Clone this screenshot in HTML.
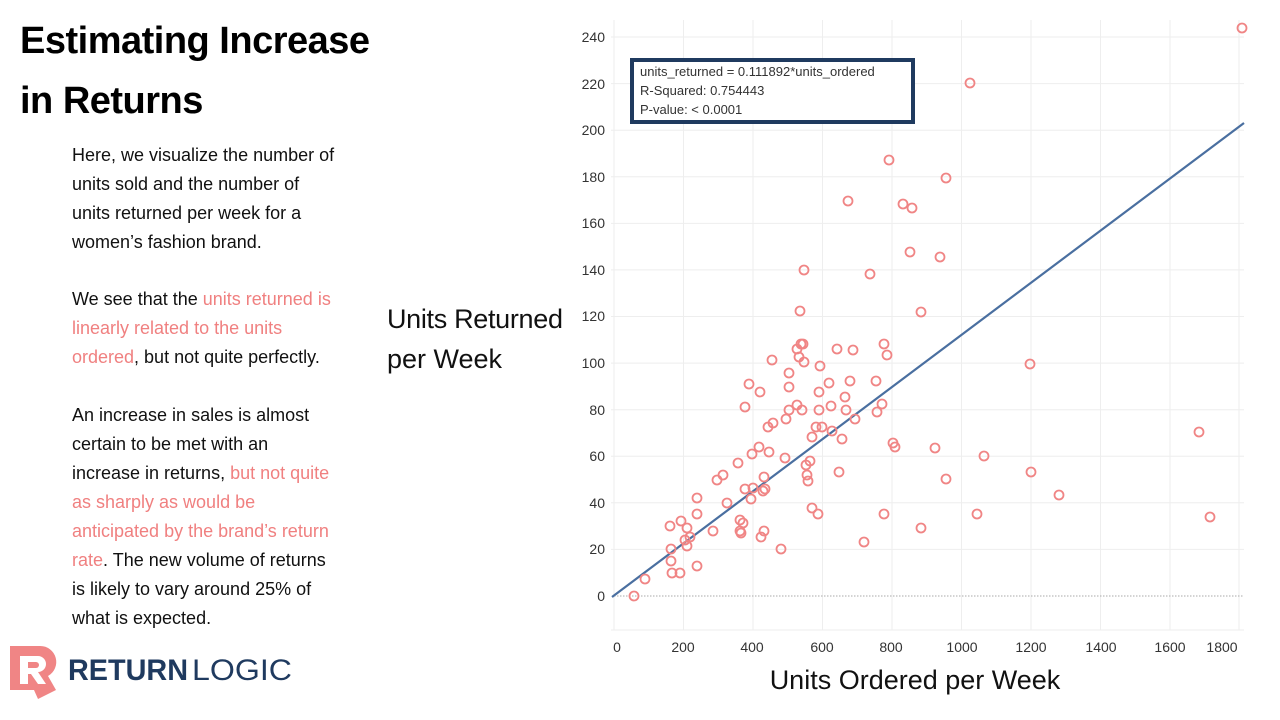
<!DOCTYPE html>
<html><head><meta charset="utf-8"><style>
body{margin:0;width:1280px;height:720px;background:#fff;position:relative;overflow:hidden;font-family:"Liberation Sans",sans-serif;}
.t{position:absolute;left:20px;font-weight:bold;font-size:38px;color:#000;letter-spacing:-0.5px}
.p{position:absolute;left:72px;font-size:18px;line-height:29px;color:#111;white-space:nowrap}
.r{color:#f08080}
</style></head><body>
<div class="t" style="top:20px">Estimating Increase</div>
<div class="t" style="top:80px">in Returns</div>
<div class="p" style="top:141px">Here, we visualize the number of<br>units sold and the number of<br>units returned per week for a<br>women’s fashion brand.</div>
<div class="p" style="top:285px">We see that the <span class="r">units returned is</span><br><span class="r">linearly related to the units</span><br><span class="r">ordered</span>, but not quite perfectly.</div>
<div class="p" style="top:401px">An increase in sales is almost<br>certain to be met with an<br>increase in returns, <span class="r">but not quite</span><br><span class="r">as sharply as would be</span><br><span class="r">anticipated by the brand’s return</span><br><span class="r">rate</span>. The new volume of returns<br>is likely to vary around 25% of<br>what is expected.</div>
<svg width="1280" height="720" style="position:absolute;left:0;top:0" font-family="Liberation Sans, sans-serif">
<g stroke="#eeeeee" stroke-width="1">
<line x1="611" y1="549.4" x2="1244" y2="549.4"/><line x1="611" y1="502.8" x2="1244" y2="502.8"/><line x1="611" y1="456.3" x2="1244" y2="456.3"/><line x1="611" y1="409.7" x2="1244" y2="409.7"/><line x1="611" y1="363.1" x2="1244" y2="363.1"/><line x1="611" y1="316.5" x2="1244" y2="316.5"/><line x1="611" y1="269.9" x2="1244" y2="269.9"/><line x1="611" y1="223.4" x2="1244" y2="223.4"/><line x1="611" y1="176.8" x2="1244" y2="176.8"/><line x1="611" y1="130.2" x2="1244" y2="130.2"/><line x1="611" y1="83.6" x2="1244" y2="83.6"/><line x1="611" y1="37" x2="1244" y2="37"/>
<line x1="614" y1="20" x2="614" y2="630"/><line x1="683.5" y1="20" x2="683.5" y2="630"/><line x1="753" y1="20" x2="753" y2="630"/><line x1="822.5" y1="20" x2="822.5" y2="630"/><line x1="892" y1="20" x2="892" y2="630"/><line x1="961.5" y1="20" x2="961.5" y2="630"/><line x1="1031" y1="20" x2="1031" y2="630"/><line x1="1100.5" y1="20" x2="1100.5" y2="630"/><line x1="1170" y1="20" x2="1170" y2="630"/><line x1="1239" y1="20" x2="1239" y2="630"/>
<line x1="611" y1="630" x2="1244" y2="630"/>
</g>
<line x1="614" y1="596" x2="1244" y2="596" stroke="#aaa" stroke-dasharray="1.5,1.5"/>
<g font-size="14" fill="#333" text-anchor="end">
<text x="605" y="601">0</text><text x="605" y="554">20</text><text x="605" y="508">40</text><text x="605" y="461">60</text><text x="605" y="415">80</text><text x="605" y="368">100</text><text x="605" y="321">120</text><text x="605" y="275">140</text><text x="605" y="228">160</text><text x="605" y="182">180</text><text x="605" y="135">200</text><text x="605" y="89">220</text><text x="605" y="42">240</text>
</g>
<g font-size="14" fill="#333" text-anchor="middle">
<text x="617" y="652">0</text><text x="683" y="652">200</text><text x="752" y="652">400</text><text x="822" y="652">600</text><text x="891" y="652">800</text><text x="962" y="652">1000</text><text x="1031" y="652">1200</text><text x="1101" y="652">1400</text><text x="1170" y="652">1600</text><text x="1222" y="652">1800</text>
</g>
<line x1="612" y1="597" x2="1244" y2="123" stroke="#4a6fa0" stroke-width="2.2"/>
<g fill="none" stroke="#f08585" stroke-width="1.8">
<circle cx="634" cy="596" r="4.5"/><circle cx="645" cy="579" r="4.5"/><circle cx="670" cy="526" r="4.5"/><circle cx="671" cy="549" r="4.5"/><circle cx="671" cy="561" r="4.5"/><circle cx="672" cy="573" r="4.5"/><circle cx="680" cy="573" r="4.5"/><circle cx="681" cy="521" r="4.5"/><circle cx="685" cy="540" r="4.5"/><circle cx="687" cy="546" r="4.5"/><circle cx="687" cy="528" r="4.5"/><circle cx="690" cy="537" r="4.5"/><circle cx="697" cy="514" r="4.5"/><circle cx="697" cy="498" r="4.5"/><circle cx="697" cy="566" r="4.5"/><circle cx="713" cy="531" r="4.5"/><circle cx="717" cy="480" r="4.5"/><circle cx="723" cy="475" r="4.5"/><circle cx="727" cy="503" r="4.5"/><circle cx="738" cy="463" r="4.5"/><circle cx="740" cy="531" r="4.5"/><circle cx="740" cy="520" r="4.5"/><circle cx="741" cy="533" r="4.5"/><circle cx="743" cy="523" r="4.5"/><circle cx="745" cy="407" r="4.5"/><circle cx="745" cy="489" r="4.5"/><circle cx="749" cy="384" r="4.5"/><circle cx="751" cy="499" r="4.5"/><circle cx="752" cy="454" r="4.5"/><circle cx="753" cy="488" r="4.5"/><circle cx="759" cy="447" r="4.5"/><circle cx="760" cy="392" r="4.5"/><circle cx="761" cy="537" r="4.5"/><circle cx="763" cy="491" r="4.5"/><circle cx="764" cy="531" r="4.5"/><circle cx="764" cy="477" r="4.5"/><circle cx="765" cy="489" r="4.5"/><circle cx="768" cy="427" r="4.5"/><circle cx="769" cy="452" r="4.5"/><circle cx="772" cy="360" r="4.5"/><circle cx="773" cy="423" r="4.5"/><circle cx="781" cy="549" r="4.5"/><circle cx="785" cy="458" r="4.5"/><circle cx="786" cy="419" r="4.5"/><circle cx="789" cy="387" r="4.5"/><circle cx="789" cy="373" r="4.5"/><circle cx="789" cy="410" r="4.5"/><circle cx="797" cy="405" r="4.5"/><circle cx="797" cy="349" r="4.5"/><circle cx="799" cy="357" r="4.5"/><circle cx="800" cy="311" r="4.5"/><circle cx="801" cy="344" r="4.5"/><circle cx="802" cy="410" r="4.5"/><circle cx="803" cy="344" r="4.5"/><circle cx="804" cy="270" r="4.5"/><circle cx="804" cy="362" r="4.5"/><circle cx="806" cy="465" r="4.5"/><circle cx="807" cy="475" r="4.5"/><circle cx="808" cy="481" r="4.5"/><circle cx="810" cy="461" r="4.5"/><circle cx="812" cy="437" r="4.5"/><circle cx="812" cy="508" r="4.5"/><circle cx="816" cy="427" r="4.5"/><circle cx="818" cy="514" r="4.5"/><circle cx="819" cy="392" r="4.5"/><circle cx="819" cy="410" r="4.5"/><circle cx="820" cy="366" r="4.5"/><circle cx="822" cy="427" r="4.5"/><circle cx="829" cy="383" r="4.5"/><circle cx="831" cy="406" r="4.5"/><circle cx="832" cy="431" r="4.5"/><circle cx="837" cy="349" r="4.5"/><circle cx="839" cy="472" r="4.5"/><circle cx="842" cy="439" r="4.5"/><circle cx="845" cy="397" r="4.5"/><circle cx="846" cy="410" r="4.5"/><circle cx="848" cy="201" r="4.5"/><circle cx="850" cy="381" r="4.5"/><circle cx="853" cy="350" r="4.5"/><circle cx="855" cy="419" r="4.5"/><circle cx="864" cy="542" r="4.5"/><circle cx="870" cy="274" r="4.5"/><circle cx="876" cy="381" r="4.5"/><circle cx="877" cy="412" r="4.5"/><circle cx="882" cy="404" r="4.5"/><circle cx="884" cy="514" r="4.5"/><circle cx="884" cy="344" r="4.5"/><circle cx="887" cy="355" r="4.5"/><circle cx="889" cy="160" r="4.5"/><circle cx="893" cy="443" r="4.5"/><circle cx="895" cy="447" r="4.5"/><circle cx="903" cy="204" r="4.5"/><circle cx="910" cy="252" r="4.5"/><circle cx="912" cy="208" r="4.5"/><circle cx="921" cy="312" r="4.5"/><circle cx="921" cy="528" r="4.5"/><circle cx="935" cy="448" r="4.5"/><circle cx="940" cy="257" r="4.5"/><circle cx="946" cy="178" r="4.5"/><circle cx="946" cy="479" r="4.5"/><circle cx="970" cy="83" r="4.5"/><circle cx="977" cy="514" r="4.5"/><circle cx="984" cy="456" r="4.5"/><circle cx="1030" cy="364" r="4.5"/><circle cx="1031" cy="472" r="4.5"/><circle cx="1059" cy="495" r="4.5"/><circle cx="1199" cy="432" r="4.5"/><circle cx="1210" cy="517" r="4.5"/><circle cx="1242" cy="28" r="4.5"/>
</g>
<rect x="632" y="60" width="281" height="62" fill="#fff" stroke="#1f3a5f" stroke-width="4"/>
<g font-size="13" fill="#333">
<text x="640" y="76">units_returned = 0.111892*units_ordered</text>
<text x="640" y="95">R-Squared: 0.754443</text>
<text x="640" y="114">P-value: &lt; 0.0001</text>
</g>
<g font-size="27" fill="#111">
<text x="387" y="328" textLength="176">Units Returned</text>
<text x="387" y="368">per Week</text>
<text x="915" y="689" text-anchor="middle">Units Ordered per Week</text>
</g>
<path d="M10 646 H40 A16 16 0 0 1 48 676 L56 690 L38 699 L34 690 H10 Z" fill="#f08585"/>
<path d="M20 656 H38 A8 8 0 0 1 38 672 L46 684 H38 L31 674 H28 V684 H20 Z" fill="#fff"/>
<path d="M28 662 H36 A3 3 0 0 1 36 668 H28 Z" fill="#f08585"/>
<text x="68" y="680" font-size="30" font-weight="bold" fill="#1f3a5f" textLength="120" lengthAdjust="spacingAndGlyphs">RETURN</text>
<text x="192" y="680" font-size="30" fill="#1f3a5f" textLength="100" lengthAdjust="spacingAndGlyphs">LOGIC</text>
</svg>
</body></html>
